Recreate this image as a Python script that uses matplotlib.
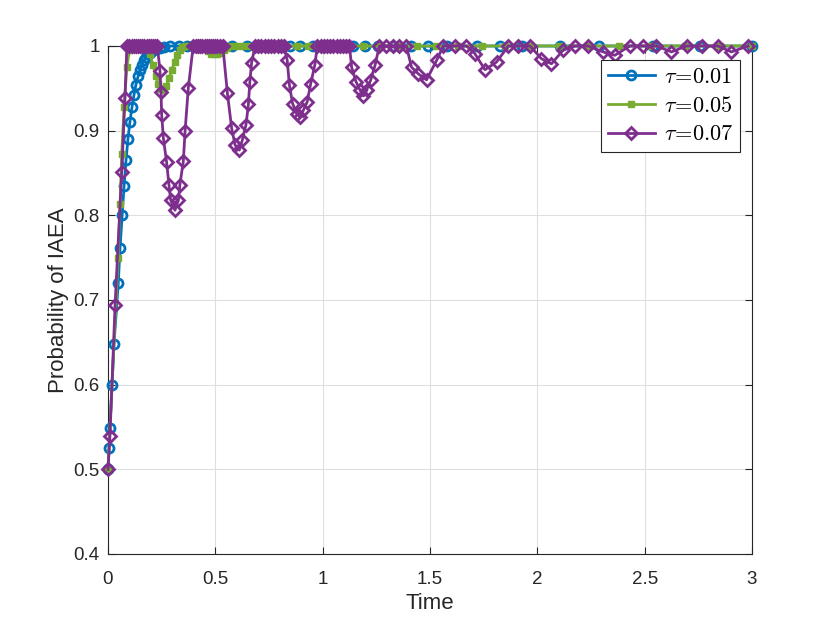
import matplotlib
matplotlib.use("Agg")
import matplotlib.pyplot as plt

# ---- data ----
t_blue = [0, 0.005, 0.009, 0.019, 0.028, 0.048, 0.056, 0.066, 0.075, 0.084, 0.093, 0.102,
          0.112, 0.121, 0.130, 0.140, 0.149, 0.158, 0.168, 0.177, 0.186, 0.196, 0.205,
          0.214, 0.224, 0.24, 0.26, 0.29, 0.33, 0.37, 0.41, 0.45, 0.5, 0.578, 0.647,
          0.72, 0.79, 0.85, 0.894, 0.955, 1.02, 1.08, 1.141, 1.197, 1.26, 1.327, 1.41,
          1.49, 1.579, 1.719, 1.826, 1.928, 2.105, 2.286, 2.538, 2.757, 3.0]
p_blue = [0.5, 0.525, 0.549, 0.6, 0.648, 0.72, 0.761, 0.8, 0.835, 0.865, 0.89, 0.91,
          0.928, 0.942, 0.954, 0.964, 0.972, 0.978, 0.983, 0.987, 0.99, 0.992, 0.994,
          0.996, 0.997, 0.998, 0.999, 1.0, 1.0, 1.0, 1.0, 1.0, 1.0, 1.0, 1.0,
          1.0, 1.0, 1.0, 1.0, 1.0, 1.0, 1.0, 1.0, 1.0, 1.0, 1.0, 1.0,
          1.0, 1.0, 1.0, 1.0, 1.0, 1.0, 1.0, 1.0, 1.0, 1.0]

t_green = [0, 0.047, 0.056, 0.064, 0.075, 0.088, 0.1, 0.112, 0.125, 0.138, 0.15, 0.162,
           0.175, 0.187, 0.196, 0.21, 0.222, 0.235, 0.247, 0.26, 0.272, 0.285, 0.297,
           0.31, 0.322, 0.335, 0.347, 0.36, 0.375, 0.39, 0.405, 0.42, 0.435, 0.45,
           0.465, 0.48, 0.495, 0.51, 0.525, 0.54, 0.555, 0.575, 0.6, 0.63, 0.66, 0.7,
           0.74, 0.78, 0.83, 0.88, 0.93, 0.99, 1.05, 1.12, 1.19, 1.27, 1.35, 1.44,
           1.53, 1.63, 1.74, 1.85, 1.97, 2.1, 2.24, 2.38, 2.53, 2.69, 2.85, 3.0]
p_green = [0.5, 0.749, 0.813, 0.873, 0.928, 0.975, 0.995, 1.0, 1.0, 1.0, 1.0, 1.0,
           1.0, 0.997, 0.99, 0.977, 0.965, 0.955, 0.949, 0.948, 0.953, 0.962, 0.972,
           0.981, 0.989, 0.995, 0.999, 1.0, 1.0, 1.0, 1.0, 1.0, 1.0, 0.998,
           0.994, 0.991, 0.99, 0.99, 0.992, 0.995, 0.998, 1.0, 1.0, 1.0, 1.0, 1.0,
           1.0, 1.0, 1.0, 1.0, 1.0, 1.0, 1.0, 1.0, 1.0, 1.0, 1.0, 1.0,
           1.0, 1.0, 1.0, 1.0, 1.0, 1.0, 1.0, 1.0, 1.0, 1.0, 1.0, 1.0]

t_purple = [0, 0.009, 0.033, 0.064, 0.079, 0.088,
            0.10, 0.11, 0.12, 0.13, 0.14, 0.15, 0.16, 0.17, 0.18, 0.19, 0.20, 0.21, 0.22, 0.23,
            0.242, 0.247, 0.25, 0.258, 0.273, 0.284, 0.292, 0.312, 0.328, 0.335, 0.351,
            0.359, 0.374, 0.397,
            0.41, 0.42, 0.43, 0.44, 0.45, 0.46, 0.47, 0.48, 0.49, 0.50, 0.51, 0.52, 0.535,
            0.556, 0.576, 0.592, 0.612, 0.626, 0.643, 0.654, 0.661, 0.669, 0.685,
            0.70, 0.715, 0.73, 0.745, 0.76, 0.775, 0.79, 0.805, 0.82,
            0.835, 0.845, 0.86, 0.879, 0.894, 0.91, 0.928, 0.944, 0.964, 0.975,
            0.99, 1.005, 1.02, 1.035, 1.05, 1.065, 1.08, 1.095, 1.11, 1.125,
            1.135, 1.155, 1.174, 1.19, 1.205, 1.224, 1.244, 1.264,
            1.295, 1.327, 1.358, 1.39, 1.414, 1.446, 1.484, 1.531, 1.562,
            1.616, 1.67, 1.709, 1.756, 1.81, 1.865, 1.91, 1.966, 2.019, 2.066,
            2.12, 2.175, 2.237, 2.307, 2.361, 2.431, 2.493, 2.555, 2.625, 2.695,
            2.765, 2.842, 2.904, 2.982]
p_purple = [0.5, 0.539, 0.694, 0.851, 0.938, 1.0,
            1.0, 1.0, 1.0, 1.0, 1.0, 1.0, 1.0, 1.0, 1.0, 1.0, 1.0, 1.0, 1.0, 1.0,
            0.971, 0.946, 0.919, 0.891, 0.863, 0.836, 0.818, 0.806, 0.818, 0.836, 0.864,
            0.899, 0.95, 1.0,
            1.0, 1.0, 1.0, 1.0, 1.0, 1.0, 1.0, 1.0, 1.0, 1.0, 1.0, 1.0, 1.0,
            0.945, 0.903, 0.883, 0.877, 0.889, 0.907, 0.931, 0.958, 0.98, 1.0,
            1.0, 1.0, 1.0, 1.0, 1.0, 1.0, 1.0, 1.0, 1.0,
            0.983, 0.954, 0.932, 0.92, 0.916, 0.924, 0.934, 0.955, 0.978, 1.0,
            1.0, 1.0, 1.0, 1.0, 1.0, 1.0, 1.0, 1.0, 1.0, 1.0,
            0.975, 0.958, 0.948, 0.941, 0.948, 0.96, 0.977, 1.0,
            1.0, 1.0, 1.0, 1.0, 0.975, 0.967, 0.96, 0.983, 1.0,
            1.0, 1.0, 0.991, 0.972, 0.981, 1.0, 1.0, 1.0, 0.985, 0.979,
            0.995, 1.0, 1.0, 0.993, 0.989, 1.0, 1.0, 1.0, 0.993, 1.0,
            1.0, 1.0, 0.993, 1.0]

labels = [r'$\tau\!=\!0.01$', r'$\tau\!=\!0.05$', r'$\tau\!=\!0.07$']
x_ticks = [0, 0.5, 1, 1.5, 2, 2.5, 3]
x_ticklabels = ['0', '0.5', '1', '1.5', '2', '2.5', '3']
y_ticks = [0.4, 0.5, 0.6, 0.7, 0.8, 0.9, 1.0]
y_ticklabels = ['0.4', '0.5', '0.6', '0.7', '0.8', '0.9', '1']

# ---- style ----
plt.rcParams['font.family'] = ['Liberation Sans', 'DejaVu Sans']
plt.rcParams['mathtext.fontset'] = 'cm'

c_blue = '#0072BD'
c_green = '#77AC30'
c_purple = '#7E2F8E'
axc = '#262626'

fig = plt.figure(figsize=(8.3, 6.23), dpi=100)
ax = fig.add_axes([0.1301, 0.1108, 0.7759, 0.8154])

ax.plot(t_blue, p_blue, '-o', color=c_blue, lw=2.0, ms=6.5, mfc='none', mew=2.0,
        label=labels[0], zorder=3, clip_on=False)
ax.plot(t_green, p_green, '-s', color=c_green, lw=2.0, ms=5, mfc=c_green, mew=1.0,
        label=labels[1], zorder=4, clip_on=False)
ax.plot(t_purple, p_purple, '-D', color=c_purple, lw=2.0, ms=6.5, mfc='none', mew=2.0,
        label=labels[2], zorder=5, clip_on=False)

ax.set_xlim(0, 3)
ax.set_ylim(0.4, 1.0)
ax.set_xticks(x_ticks)
ax.set_xticklabels(x_ticklabels)
ax.set_yticks(y_ticks)
ax.set_yticklabels(y_ticklabels)

ax.grid(True, color='#dfdfdf', lw=0.8)
ax.set_axisbelow(True)
for s in ax.spines.values():
    s.set_color(axc)
    s.set_linewidth(0.8)
ax.tick_params(direction='in', top=True, right=True, length=5, width=0.8,
               colors=axc, labelsize=13.5)
ax.tick_params(axis='x', pad=12)
ax.tick_params(axis='y', pad=6)

ax.set_xlabel('Time', fontsize=16, color=axc, labelpad=4)
ax.set_ylabel('Probability of IAEA', fontsize=16, color=axc, labelpad=3)

leg = ax.legend(loc='upper right', bbox_to_anchor=(0.981, 0.972), borderaxespad=0,
                fontsize=16, fancybox=False, framealpha=1, edgecolor=axc,
                handlelength=2.1, handletextpad=0.4, labelspacing=0.35,
                borderpad=0.3)
leg.get_frame().set_linewidth(0.8)
leg.set_zorder(10)

fig.savefig('out.png', dpi=100)
